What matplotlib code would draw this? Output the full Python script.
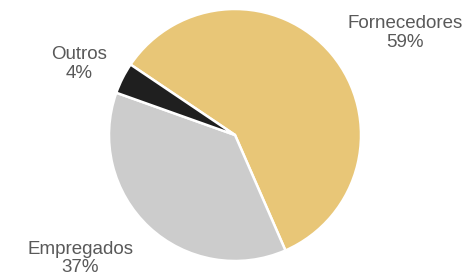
import matplotlib
matplotlib.use("Agg")
import matplotlib.pyplot as plt

labels = ["Fornecedores", "Empregados", "Outros"]
values = [59, 37, 4]
colors = ["#E8C677", "#CCCCCC", "#1F1F1F"]
# label anchor positions (axes data units, pie radius = 1)
label_pos = [(1.35, 0.81), (-1.23, -0.98), (-1.24, 0.56)]

plt.rcParams["font.family"] = ["Liberation Sans", "DejaVu Sans"]

fig = plt.figure(figsize=(4.66, 2.74), dpi=100)
ax = fig.add_axes([109/466, 13/274, 252/466, 252/274])
ax.pie(values, colors=colors, startangle=146, counterclock=False, radius=1,
       wedgeprops=dict(edgecolor="white", linewidth=1.8))
ax.set_xlim(-1, 1); ax.set_ylim(-1, 1); ax.set_aspect("equal")
ax.axis("off")

total = sum(values)
for name, v, (x, y) in zip(labels, values, label_pos):
    ax.text(x, y, f"{name}\n{round(100*v/total)}%", ha="center", va="center",
            fontsize=13.5, color="#595959", linespacing=1.15, clip_on=False)

fig.savefig("out.png", dpi=100)
